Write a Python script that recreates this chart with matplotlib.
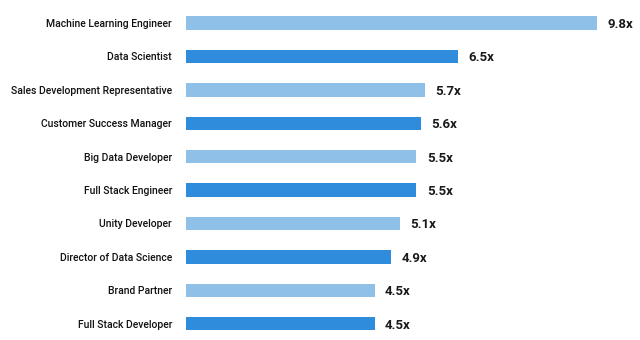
import matplotlib
matplotlib.use("Agg")
import matplotlib.pyplot as plt

plt.rcParams['font.family'] = ['Roboto', 'Liberation Sans', 'DejaVu Sans']

roles = ["Machine Learning Engineer", "Data Scientist", "Sales Development Representative",
         "Customer Success Manager", "Big Data Developer", "Full Stack Engineer",
         "Unity Developer", "Director of Data Science", "Brand Partner", "Full Stack Developer"]
growth = [9.8, 6.5, 5.7, 5.6, 5.5, 5.5, 5.1, 4.9, 4.5, 4.5]
value_labels = ["9.8x", "6.5x", "5.7x", "5.6x", "5.5x", "5.5x", "5.1x", "4.9x", "4.5x", "4.5x"]

light = "#8fc0e7"
dark = "#2f8cdc"
colors = [light if i % 2 == 0 else dark for i in range(len(roles))]

fig = plt.figure(figsize=(6.4, 3.4), dpi=100)
ax = fig.add_axes([186 / 640, 0, 1 - 186 / 640, 1])
y = list(range(len(roles)))
ax.barh(y, growth, height=0.4, color=colors)
for yi, v, lab in zip(y, growth, value_labels):
    ax.text(v + 0.25, yi, lab, va="center_baseline", ha="left", fontsize=9.5,
            fontweight="bold", color="#1a1a1a")
ax.set_yticks(y)
ax.set_yticklabels(roles, fontsize=7.5, color="#111111", fontweight="medium",
                   va="center_baseline")
ax.tick_params(axis="y", length=0, pad=10)
ax.set_xticks([])
ax.set_xlim(0, (640 - 186) / 41.9)
ax.set_ylim(9.49, -0.69)
for s in ax.spines.values():
    s.set_visible(False)

fig.savefig("out.png", dpi=100)
